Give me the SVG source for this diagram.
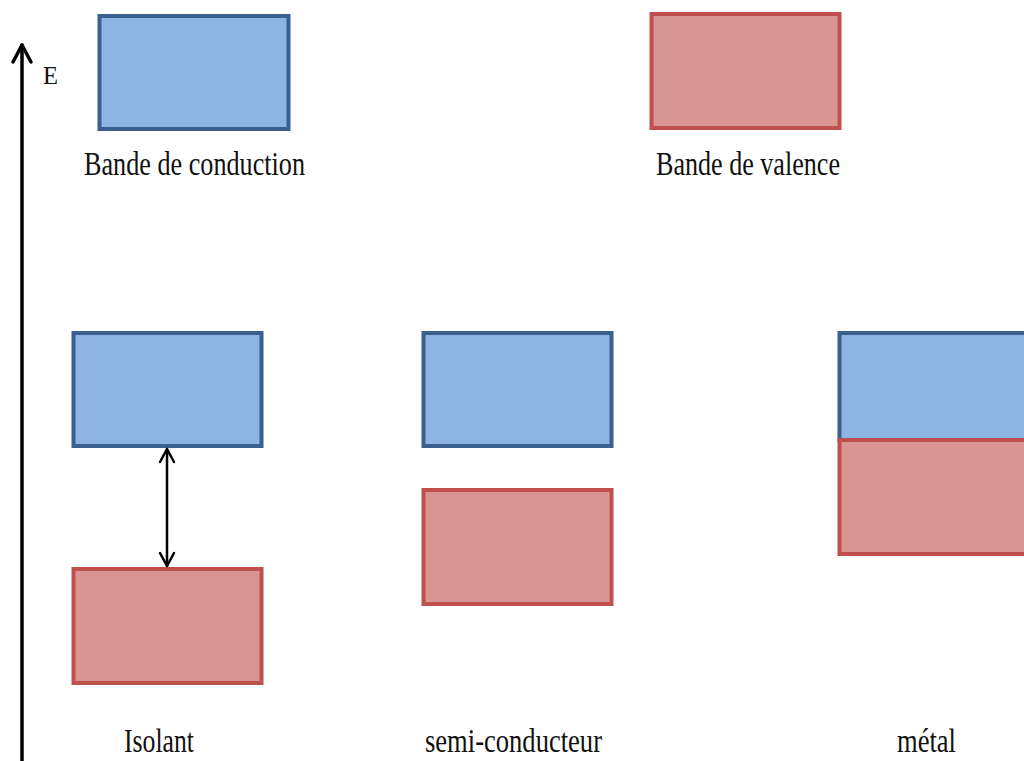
<svg xmlns="http://www.w3.org/2000/svg" width="1024" height="761" viewBox="0 0 1024 761">
<style>
.cb{fill:#8eb4e3;stroke:#3b5f8e;stroke-width:4}
.vb{fill:#d99594;stroke:#c0504d;stroke-width:4}
.t{font-family:"Liberation Serif","Times New Roman",serif;font-size:33px;fill:#111}
.ln{stroke:#000;fill:none;stroke-linecap:round;stroke-linejoin:round}
</style>
<rect width="1024" height="761" fill="#fff"/>
<g id="axis">
<line class="ln" x1="22" y1="761" x2="22" y2="45" stroke-width="3.5"/>
<polyline class="ln" points="13,62 22,45 31,62" stroke-width="3.5"/>
<text x="43" y="84" font-family="Liberation Serif, serif" font-size="25" fill="#111" textLength="15" lengthAdjust="spacingAndGlyphs">E</text>
</g>
<g id="legend-conduction">
<rect class="cb" x="99.5" y="16" width="189" height="113"/>
<text class="t" x="84" y="175" textLength="221" lengthAdjust="spacingAndGlyphs">Bande de conduction</text>
</g>
<g id="legend-valence">
<rect class="vb" x="651.5" y="14" width="188" height="114"/>
<text class="t" x="656" y="175" textLength="184" lengthAdjust="spacingAndGlyphs">Bande de valence</text>
</g>
<g id="isolant">
<rect class="cb" x="73.5" y="333" width="188" height="113"/>
<rect class="vb" x="73.5" y="569" width="188" height="114"/>
<text class="t" x="124" y="752" textLength="70" lengthAdjust="spacingAndGlyphs">Isolant</text>
</g>
<g id="semi-conducteur">
<rect class="cb" x="423.5" y="333" width="188" height="113"/>
<rect class="vb" x="423.5" y="490" width="188" height="114"/>
<text class="t" x="425" y="752" textLength="177" lengthAdjust="spacingAndGlyphs">semi-conducteur</text>
</g>
<g id="metal">
<rect class="cb" x="839.5" y="333" width="200" height="107"/>
<rect class="vb" x="839.5" y="440" width="200" height="114"/>
<text class="t" x="897" y="752" textLength="59" lengthAdjust="spacingAndGlyphs">métal</text>
</g>
<g id="connectors">
<line class="ln" x1="167" y1="449" x2="167" y2="566" stroke-width="2.5"/>
<polyline class="ln" points="160,462 167,449 174,462" stroke-width="2.5"/>
<polyline class="ln" points="160,553 167,566 174,553" stroke-width="2.5"/>
</g>
</svg>
